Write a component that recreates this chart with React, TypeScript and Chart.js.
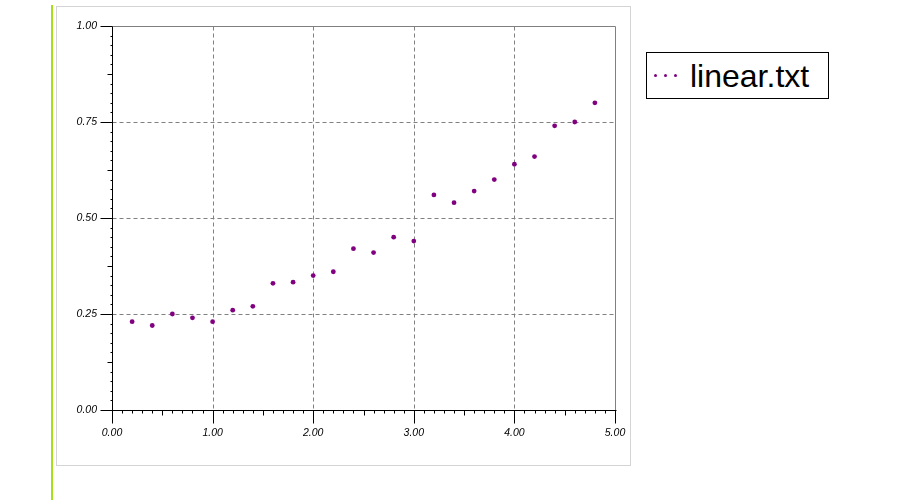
import React, { useEffect, useRef } from "react";
import { Chart, registerables } from "chart.js";

Chart.register(...registerables);

const xValues = [0.2, 0.4, 0.6, 0.8, 1.0, 1.2, 1.4, 1.6, 1.8, 2.0, 2.2, 2.4, 2.6, 2.8, 3.0, 3.2, 3.4, 3.6, 3.8, 4.0, 4.2, 4.4, 4.6, 4.8];
const yValues = [0.23, 0.22, 0.25, 0.24, 0.23, 0.26, 0.27, 0.33, 0.333, 0.35, 0.36, 0.42, 0.41, 0.45, 0.44, 0.56, 0.54, 0.57, 0.6, 0.64, 0.66, 0.74, 0.75, 0.8];
const xTicks = [0, 1, 2, 3, 4, 5];
const yTicks = [0, 0.25, 0.5, 0.75, 1];
const seriesLabel = "linear.txt";

const X_MIN = 0, X_MAX = 5, Y_MIN = 0, Y_MAX = 1;
const POINT_COLOR = "#800080";

const framePlugin = {
  id: "frameTicks",
  beforeDatasetsDraw(chart: any) {
    const { ctx, chartArea: a, scales } = chart;
    const xs = scales.x, ys = scales.y;
    const L = a.left + 0.5, R = Math.round(a.right) + 0.5, T = a.top + 0.5, B = Math.round(a.bottom) + 0.5;
    const line = (x1: number, y1: number, x2: number, y2: number) => {
      ctx.beginPath(); ctx.moveTo(x1, y1); ctx.lineTo(x2, y2); ctx.stroke();
    };
    ctx.save();
    ctx.lineWidth = 1;
    ctx.strokeStyle = "#808080";
    ctx.setLineDash([4, 3]);
    for (const v of xTicks) {
      if (v > X_MIN && v < X_MAX) {
        const px = Math.round(xs.getPixelForValue(v)) + 0.5;
        line(px, T, px, B);
      }
    }
    for (const v of yTicks) {
      if (v > Y_MIN && v < Y_MAX) {
        const py = Math.round(ys.getPixelForValue(v)) + 0.5;
        line(L, py, R, py);
      }
    }
    ctx.setLineDash([]);
    line(L, T, R, T);
    line(R, T, R, B);
    ctx.strokeStyle = "#000000";
    line(L, T, L, B + 1);
    line(L - 1, B, R + 1, B);
    const yn = 40;
    for (let i = 0; i <= yn; i++) {
      const v = Y_MIN + (Y_MAX - Y_MIN) * i / yn;
      const py = Math.round(ys.getPixelForValue(v)) + 0.5;
      const len = i % 10 === 0 ? 12 : i % 5 === 0 ? 5 : 2;
      line(L - len, py, L, py);
    }
    const xn = 50;
    for (let i = 0; i <= xn; i++) {
      const v = X_MIN + (X_MAX - X_MIN) * i / xn;
      const px = Math.round(xs.getPixelForValue(v)) + 0.5;
      const len = i % 10 === 0 ? 13 : i % 5 === 0 ? 5 : 3;
      line(px, B, px, B + len);
    }
    ctx.restore();
  },
};

export default function App() {
  const ref = useRef<HTMLCanvasElement | null>(null);

  useEffect(() => {
    if (!ref.current) return;
    const tickFont = { family: "Arial, 'Liberation Sans', sans-serif", size: 10.5, style: "italic" as const };
    const chart = new Chart(ref.current, {
      type: "scatter",
      data: {
        datasets: [
          {
            label: seriesLabel,
            data: xValues.map((x, i) => ({ x, y: yValues[i] })),
            backgroundColor: POINT_COLOR,
            borderColor: POINT_COLOR,
            borderWidth: 0,
            pointRadius: 2.4,
            pointStyle: "circle",
          },
        ],
      },
      options: {
        animation: false,
        responsive: false,
        devicePixelRatio: 1,
        layout: { padding: { left: 0, top: 26, right: 285, bottom: 0 } },
        plugins: { legend: { display: false }, tooltip: { enabled: false } },
        scales: {
          x: {
            type: "linear",
            min: X_MIN,
            max: X_MAX,
            afterBuildTicks: (s: any) => { s.ticks = xTicks.map((value) => ({ value })); },
            afterFit: (s: any) => { s.height = 91; },
            ticks: {
              callback: (v: any) => Number(v).toFixed(2),
              font: tickFont,
              color: "#000",
              padding: 17,
              maxRotation: 0,
              autoSkip: false,
            },
            grid: { display: false, drawTicks: false },
            border: { display: false },
          },
          y: {
            type: "linear",
            min: Y_MIN,
            max: Y_MAX,
            afterBuildTicks: (s: any) => { s.ticks = yTicks.map((value) => ({ value })); },
            afterFit: (s: any) => { s.width = 112; },
            ticks: {
              callback: (v: any) => Number(v).toFixed(2),
              font: tickFont,
              color: "#000",
              padding: 15,
              autoSkip: false,
            },
            grid: { display: false, drawTicks: false },
            border: { display: false },
          },
        },
      },
      plugins: [framePlugin],
    } as any);
    return () => chart.destroy();
  }, []);

  const dot = (x: number) => (
    <span
      key={x}
      style={{
        position: "absolute",
        left: x - 1.5,
        top: 74,
        width: 3,
        height: 3,
        borderRadius: "50%",
        background: POINT_COLOR,
      }}
    />
  );

  return (
    <div style={{ position: "fixed", left: 0, top: 0, width: 900, height: 501, background: "#fff", overflow: "hidden" }}>
      <div style={{ position: "absolute", left: 51, top: 5, width: 2, height: 495, background: "#a6e01a" }} />
      <div style={{ position: "absolute", left: 56, top: 6, width: 573, height: 458, border: "1px solid #d4d4d4" }} />
      <canvas ref={ref} width={900} height={501} style={{ position: "absolute", left: 0, top: 0, width: 900, height: 501 }} />
      <div style={{ position: "absolute", left: 646, top: 52, width: 181, height: 45, border: "1px solid #000", background: "#fff" }} />
      {[655, 665, 675].map(dot)}
      <span
        style={{
          position: "absolute",
          left: 690,
          top: 60,
          fontFamily: "Arial, 'Liberation Sans', sans-serif",
          fontSize: 32,
          lineHeight: "32px",
          color: "#000",
          whiteSpace: "nowrap",
        }}
      >
        {seriesLabel}
      </span>
    </div>
  );
}
